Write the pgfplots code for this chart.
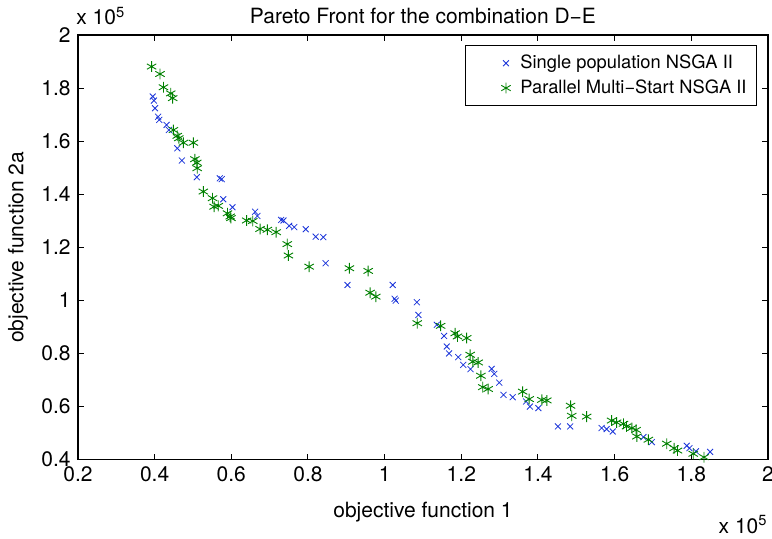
\documentclass[border=0pt]{standalone}
\usepackage{pgfplots}
\pgfplotsset{compat=1.18}
\usepackage{fontspec}
\setmainfont{TeX Gyre Heros}
\definecolor{mblue}{rgb}{0.1,0.2,0.85}
\definecolor{mgreen}{rgb}{0,0.5,0}
\pgfplotsset{mylegend/.style={legend image code/.code={\draw[##1] plot coordinates {(16.8pt,0pt)}; \path (0pt,0pt) (21.8pt,0pt);}}}
\pgfplotstableread{
x y
0.395 1.768
0.398 1.753
0.401 1.724
0.409 1.692
0.412 1.680
0.431 1.661
0.437 1.642
0.459 1.573
0.471 1.527
0.510 1.464
0.570 1.460
0.575 1.457
0.579 1.381
0.603 1.351
0.662 1.334
0.668 1.318
0.730 1.303
0.736 1.301
0.751 1.281
0.764 1.276
0.794 1.268
0.820 1.240
0.840 1.238
0.846 1.140
0.903 1.058
1.021 1.058
1.026 1.006
1.029 0.999
1.084 0.993
1.088 0.945
1.136 0.908
1.155 0.866
1.162 0.826
1.168 0.800
1.192 0.786
1.205 0.757
1.224 0.741
1.279 0.742
1.286 0.723
1.299 0.690
1.310 0.644
1.334 0.635
1.369 0.619
1.379 0.600
1.401 0.594
1.452 0.525
1.484 0.525
1.566 0.519
1.579 0.515
1.595 0.506
1.675 0.485
1.697 0.466
1.788 0.452
1.795 0.443
1.812 0.431
1.849 0.429
}\single
\pgfplotstableread{
x y
0.392 1.881
0.414 1.853
0.423 1.803
0.442 1.780
0.447 1.762
0.449 1.642
0.459 1.620
0.463 1.611
0.475 1.594
0.501 1.594
0.505 1.532
0.510 1.519
0.511 1.498
0.527 1.410
0.551 1.385
0.555 1.353
0.566 1.356
0.590 1.328
0.597 1.316
0.599 1.310
0.640 1.301
0.656 1.299
0.675 1.269
0.694 1.266
0.717 1.257
0.746 1.212
0.749 1.169
0.803 1.127
0.908 1.121
0.957 1.111
0.962 1.029
0.977 1.014
1.085 0.914
1.146 0.904
1.184 0.876
1.190 0.864
1.214 0.858
1.223 0.795
1.230 0.769
1.244 0.766
1.251 0.716
1.256 0.673
1.270 0.666
1.360 0.656
1.377 0.628
1.410 0.625
1.423 0.623
1.485 0.603
1.488 0.565
1.527 0.562
1.592 0.547
1.605 0.540
1.623 0.535
1.631 0.525
1.645 0.519
1.656 0.512
1.658 0.487
1.688 0.475
1.736 0.460
1.755 0.443
1.764 0.434
1.805 0.422
1.833 0.409
}\parallel
\begin{document}
\fontsize{10.5}{12}\selectfont
\begin{tikzpicture}
\begin{axis}[
  scale only axis, width=345pt, height=212.3pt,
  clip mode=individual,
  xmin=0.2, xmax=2, ymin=0.4, ymax=2,
  xtick={0.2,0.4,0.6,0.8,1.0,1.2,1.4,1.6,1.8,2.0},
  ytick={0.4,0.6,0.8,1.0,1.2,1.4,1.6,1.8,2.0},
  xticklabels={0.2,0.4,0.6,0.8,1,1.2,1.4,1.6,1.8,2},
  yticklabels={0.4,0.6,0.8,1,1.2,1.4,1.6,1.8,2},
  tick align=inside, major tick length=3pt,
  tick style={black, line width=0.5pt},
  axis line style={line width=0.6pt},
  xlabel={objective function 1},
  xlabel style={at={(axis description cs:0.5,-0.1365)}, anchor=base},
  ylabel={objective function 2a},
  ylabel style={at={(axis description cs:-0.087,0.5)}, anchor=center},
  legend style={at={(axis description cs:0.984,0.9757)}, anchor=north east,
    draw=black, line width=0.5pt, font=\fontsize{9.15}{11}\selectfont,
    nodes={font=\fontsize{9.15}{11}\selectfont},
    row sep=0pt, inner xsep=3pt, inner ysep=2.5pt},
  legend cell align=left,
]
\addplot[only marks, mark=x, mark size=2.1pt, color=mblue, line width=0.4pt, mylegend] table[x=x,y=y] {\single};
\addlegendentry{Single population NSGA II}
\addplot[only marks, mark=asterisk, mark size=2.7pt, color=mgreen, line width=0.45pt, mylegend] table[x=x,y=y] {\parallel};
\addlegendentry{Parallel Multi−Start NSGA II}
\node[anchor=base, inner sep=0pt] at (axis description cs:0.5,1.0259) {Pareto Front for the combination D−E};
\node[anchor=base west, inner sep=0pt] at (axis description cs:-0.003,1.0236) {x 10\textsuperscript{5}};
\node[anchor=base east, inner sep=0pt] at (axis description cs:1,-0.173) {x 10\textsuperscript{5}};
\end{axis}
\pgfresetboundingbox
\path ([xshift=-39pt,yshift=-39.7pt]current axis.south west) rectangle ([xshift=2pt,yshift=17.5pt]current axis.north east);
\end{tikzpicture}
\end{document}
